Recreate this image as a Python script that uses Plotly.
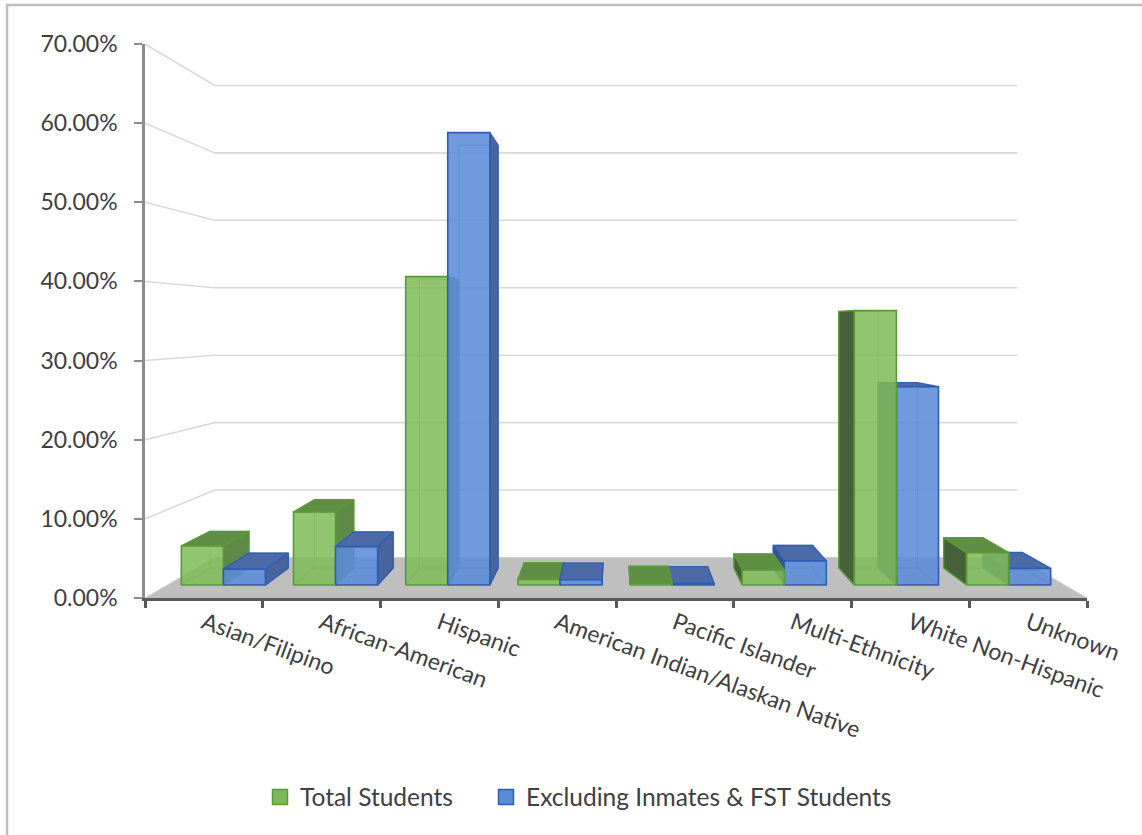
import plotly.graph_objects as go

# ---------------- data ----------------
categories = ["Asian/Filipino", "African-American", "Hispanic",
              "American Indian/Alaskan Native", "Pacific Islander",
              "Multi-Ethnicity", "White Non-Hispanic", "Unknown"]
total_students = [0.052, 0.097, 0.409, 0.0075, 0.0025, 0.020, 0.364, 0.043]
excluding_inmates_fst = [0.021, 0.051, 0.600, 0.007, 0.002, 0.032, 0.263, 0.022]
series_names = ["Total Students", "Excluding Inmates & FST Students"]
y_tick_values = [0.0, 0.1, 0.2, 0.3, 0.4, 0.5, 0.6, 0.7]

# ---------------- pseudo-3D view ----------------
CX, VF, K = 4.0, 0.346, 0.148      # vanishing centre (x, value) and depth shrink
D0, D1 = 0.32, 0.74                # bar front / back depth
GAP, BW = 0.125, 0.375             # gap and bar width in category units
N = len(categories)


def proj(u, v, d):
    f = 1 - K * d
    return CX + f * (u - CX), VF + f * (v - VF)


def poly(points):
    xs, ys = [], []
    for (u, v, d) in points:
        px, py = proj(u, v, d)
        xs.append(px)
        ys.append(py)
    xs.append(xs[0])
    ys.append(ys[0])
    return xs, ys


styles = [
    dict(front="rgba(128,188,88,0.86)", edge="#5A9A38", top="#5F8E45",
         right="#5E8A47", left="#44613A", inner="rgba(90,154,56,0.55)", legend="#7DB75A"),
    dict(front="rgba(92,140,218,0.88)", edge="#2F5DB4", top="#4C6BA6",
         right="#48659E", left="#34508A", inner="rgba(47,93,180,0.55)", legend="#5B8AD8"),
]
series = [total_students, excluding_inmates_fst]

fig = go.Figure()

# gridlines (left wall + back wall)
gx, gy = [], []
for v in y_tick_values[1:]:
    for (u, d) in [(0, 0), (0, 1), (N, 1)]:
        px, py = proj(u, v, d)
        gx.append(px)
        gy.append(py)
    gx.append(None)
    gy.append(None)
fig.add_trace(go.Scatter(x=gx, y=gy, mode="lines", line=dict(color="#D9D9D9", width=1.6),
                         hoverinfo="skip", showlegend=False))

# floor
fx, fy = poly([(0, 0, 0), (N, 0, 0), (N, 0, 1), (0, 0, 1)])
fig.add_trace(go.Scatter(x=fx, y=fy, mode="lines", fill="toself", fillcolor="#BFBFBF",
                         line=dict(color="#BFBFBF", width=0.5), hoverinfo="skip", showlegend=False))

# bars, painter's order: farthest from centre first
bars = []
for s, vals in enumerate(series):
    for i, v in enumerate(vals):
        ul = i + GAP + s * BW
        ur = ul + BW
        bars.append((abs((ul + ur) / 2 - CX), s, i, ul, ur, v))
bars.sort(key=lambda b: -b[0])

for _, s, i, ul, ur, v in bars:
    st = styles[s]
    # hidden back edges (seen through translucent front)
    ix, iy = [], []
    for seg in [[(ul, 0, D1), (ur, 0, D1), (ur, v, D1), (ul, v, D1), (ul, 0, D1)],
                [(ul, 0, D0), (ul, 0, D1)], [(ur, 0, D0), (ur, 0, D1)]]:
        for p in seg:
            px, py = proj(*p)
            ix.append(px)
            iy.append(py)
        ix.append(None)
        iy.append(None)
    fig.add_trace(go.Scatter(x=ix, y=iy, mode="lines", line=dict(color=st["inner"], width=1.2),
                             hoverinfo="skip", showlegend=False))
    # side face
    if ur <= CX:
        sx, sy = poly([(ur, 0, D0), (ur, 0, D1), (ur, v, D1), (ur, v, D0)])
        scol = st["right"]
    else:
        sx, sy = poly([(ul, 0, D0), (ul, 0, D1), (ul, v, D1), (ul, v, D0)])
        scol = st["left"]
    fig.add_trace(go.Scatter(x=sx, y=sy, mode="lines", fill="toself", fillcolor=scol,
                             line=dict(color=st["edge"], width=1.4), hoverinfo="skip", showlegend=False))
    # top face
    if v < VF:
        tx, ty = poly([(ul, v, D0), (ur, v, D0), (ur, v, D1), (ul, v, D1)])
        fig.add_trace(go.Scatter(x=tx, y=ty, mode="lines", fill="toself", fillcolor=st["top"],
                                 line=dict(color=st["edge"], width=1.4), hoverinfo="skip",
                                 showlegend=False))
    # front face
    qx, qy = poly([(ul, 0, D0), (ur, 0, D0), (ur, v, D0), (ul, v, D0)])
    fig.add_trace(go.Scatter(x=qx, y=qy, mode="lines", fill="toself", fillcolor=st["front"],
                             line=dict(color=st["edge"], width=1.6),
                             hovertemplate=f"{categories[i]}<br>{series_names[s]}: {v:.2%}<extra></extra>",
                             showlegend=False))

# legend entries (one legend box each, to reproduce the spacing)
legend_ids = ["legend", "legend2"]
for s in range(2):
    fig.add_trace(go.Scatter(x=[None], y=[None], mode="markers", name=series_names[s],
                             legend=legend_ids[s],
                             marker=dict(symbol="square", size=15, color=styles[s]["legend"],
                                         line=dict(color=styles[s]["edge"], width=1.5))))

W, H = 1142, 835
L, R, T, B = 145, 55, 44, 237
pw, ph = W - L - R, H - T - B

fig.add_shape(type="rect", xref="paper", yref="paper",
              x0=(7 - L) / pw, x1=1.3, y0=-0.8, y1=(H - B - 5) / ph,
              line=dict(color="#BFBFBF", width=2.5))

font = dict(family="Lato, 'Open Sans', sans-serif", size=23, color="#404040")
lfont = dict(family="Lato, 'Open Sans', sans-serif", size=24.5, color="#404040")
leg_y = -(797 - (H - B)) / ph
leg_common = dict(orientation="h", xanchor="left", y=leg_y, yanchor="middle", font=lfont,
                  itemsizing="trace", bgcolor="rgba(0,0,0,0)")
fig.update_layout(
    width=W, height=H,
    margin=dict(l=L, r=R, t=T, b=B),
    paper_bgcolor="white", plot_bgcolor="white",
    font=font,
    showlegend=True,
    legend=dict(x=(285 - 25 - L) / pw, **leg_common),
    legend2=dict(x=(511 - 25 - L) / pw, **leg_common),
    xaxis=dict(range=[0, N], showgrid=False, zeroline=False,
               showline=True, linecolor="#595959", linewidth=2.5,
               tickmode="array", tickvals=[i + 0.5 for i in range(N)], ticktext=categories,
               ticks="", tickangle=20, tickfont=font,
               minor=dict(tickmode="array", tickvals=list(range(N + 1)), ticks="outside",
                          ticklen=7, tickwidth=2.5, tickcolor="#595959", showgrid=False)),
    yaxis=dict(range=[0, 0.7], showgrid=False, zeroline=False,
               showline=True, linecolor="#8C8C8C", linewidth=2.5,
               tickmode="array", tickvals=y_tick_values, tickformat=".2%",
               ticks="outside", ticklen=8, tickwidth=2, tickcolor="#8C8C8C",
               tickfont=font, ticklabelstandoff=12),
)

fig.write_html("out.html")
